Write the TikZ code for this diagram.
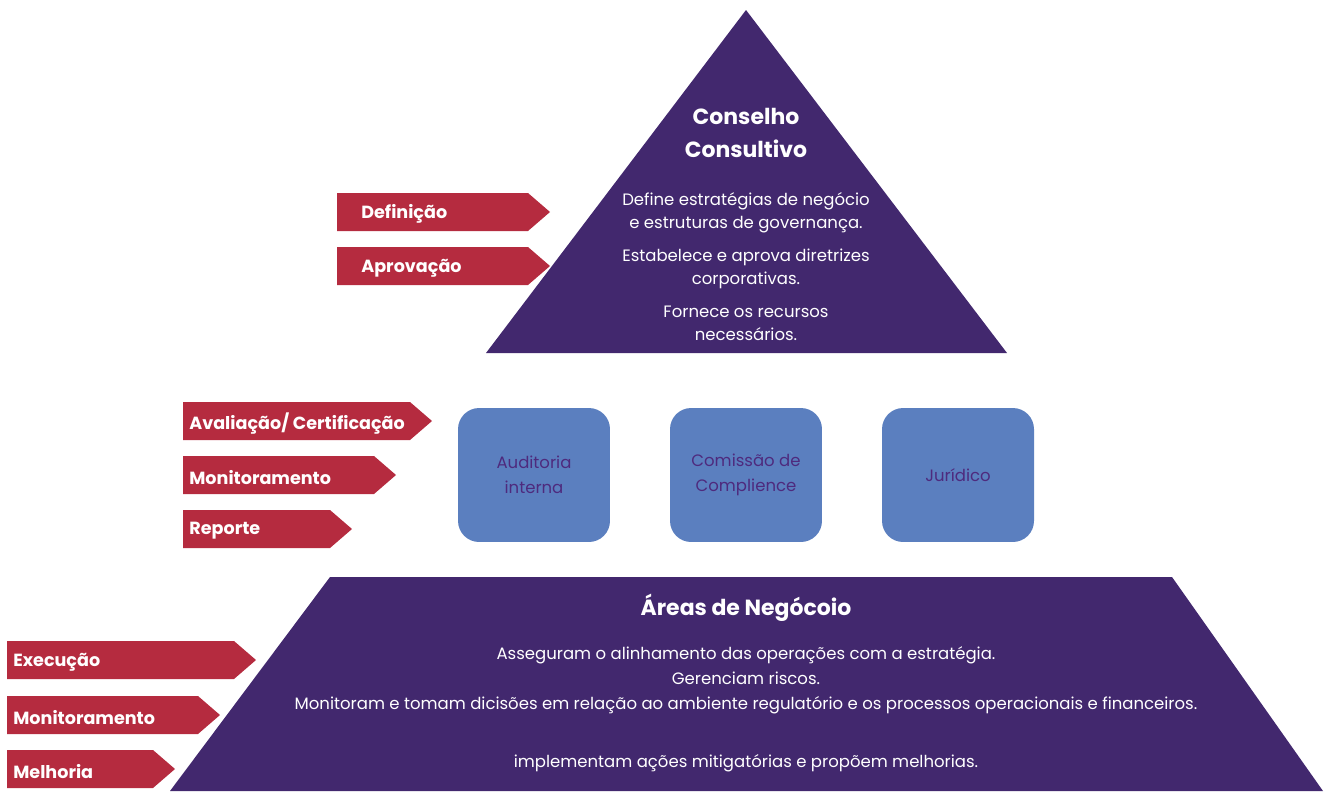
\documentclass[tikz,border=0pt]{standalone}
\usepackage{fontspec}
\setmainfont{Poppins}
\usepackage{tikz}
\usetikzlibrary{positioning}

\definecolor{roxo}{HTML}{42286E}
\definecolor{vermelho}{HTML}{B52B3F}
\definecolor{azul}{HTML}{5B7FBF}
\definecolor{roxotexto}{HTML}{4E2A7E}

\begin{document}
\begin{tikzpicture}[x=0.02cm, y=-0.02cm,
  tag/.style={fill=vermelho},
  tagtext/.style={anchor=west, yshift=-1.2pt, text=white, font=\bfseries\fontsize{10}{11}\selectfont, inner sep=0pt},
  titulo/.style={text=white, font=\bfseries\fontsize{12.5}{19}\selectfont, align=center},
  corpo/.style={text=white, font=\fontsize{9.4}{13}\selectfont, align=center},
  caixa/.style={fill=azul, rounded corners=12pt, minimum width=3.04cm, minimum height=2.68cm, text=roxotexto, font=\fontsize{9.4}{14}\selectfont, align=center}]
\useasboundingbox (0,0) rectangle (1331,791);

% piramide de cima
\fill[roxo] (746,10) -- (1007,353) -- (486,353) -- cycle;
\node[titulo] at (746,133) (conselho) {Conselho\\Consultivo};
\node[corpo] at (746,213) (define) {Define estratégias de negócio\\e estruturas de governança.};
\node[corpo] at (746,269) (estabelece) {Estabelece e aprova diretrizes\\corporativas.};
\node[corpo] at (746,323) (fornece) {Fornece os recursos\\necessários.};

\fill[tag] (337,193) -- (528,193) -- (550,212) -- (528,231) -- (337,231) -- cycle;
\node[tagtext] at (361,212) (definicao) {Definição};
\fill[tag] (337,247) -- (528,247) -- (550,266) -- (528,285) -- (337,285) -- cycle;
\node[tagtext] at (361,266) (aprovacao) {Aprovação};

% caixas do meio
\node[caixa] at (534,475) (auditoria) {Auditoria\\interna};
\node[caixa] at (746,475) (comissao) {Comissão de\\Complience};
\node[caixa] at (958,475) (juridico) {Jurídico};

\fill[tag] (183,402) -- (410,402) -- (432,421) -- (410,440) -- (183,440) -- cycle;
\node[tagtext] at (189,421) (avaliacao) {Avaliação/ Certificação};
\fill[tag] (183,456) -- (374,456) -- (396,475) -- (374,494) -- (183,494) -- cycle;
\node[tagtext] at (189,475) (monit1) {Monitoramento};
\fill[tag] (183,510) -- (330,510) -- (352,529) -- (330,548) -- (183,548) -- cycle;
\node[tagtext] at (189,529) (reporte) {Reporte};

% base
\fill[roxo] (330,577) -- (1172,577) -- (1323,791) -- (170,791) -- cycle;
\node[titulo] at (746,608) (areas) {Áreas de Negócoio};
\node[corpo, font=\fontsize{9.4}{14.2}\selectfont] at (746,680) (asseguram) {Asseguram o alinhamento das operações com a estratégia.\\Gerenciam riscos.\\Monitoram e tomam dicisões em relação ao ambiente regulatório e os processos operacionais e financeiros.};
\node[corpo] at (746,763) (implementam) {implementam ações mitigatórias e propõem melhorias.};

\fill[tag] (7,641) -- (234,641) -- (256,660) -- (234,679) -- (7,679) -- cycle;
\node[tagtext] at (13,660) (execucao) {Execução};
\fill[tag] (7,696) -- (198,696) -- (220,715) -- (198,734) -- (7,734) -- cycle;
\node[tagtext] at (13,715) (monit2) {Monitoramento};
\fill[tag] (7,750) -- (153,750) -- (175,769) -- (153,788) -- (7,788) -- cycle;
\node[tagtext] at (13,769) (melhoria) {Melhoria};
\end{tikzpicture}
\end{document}
